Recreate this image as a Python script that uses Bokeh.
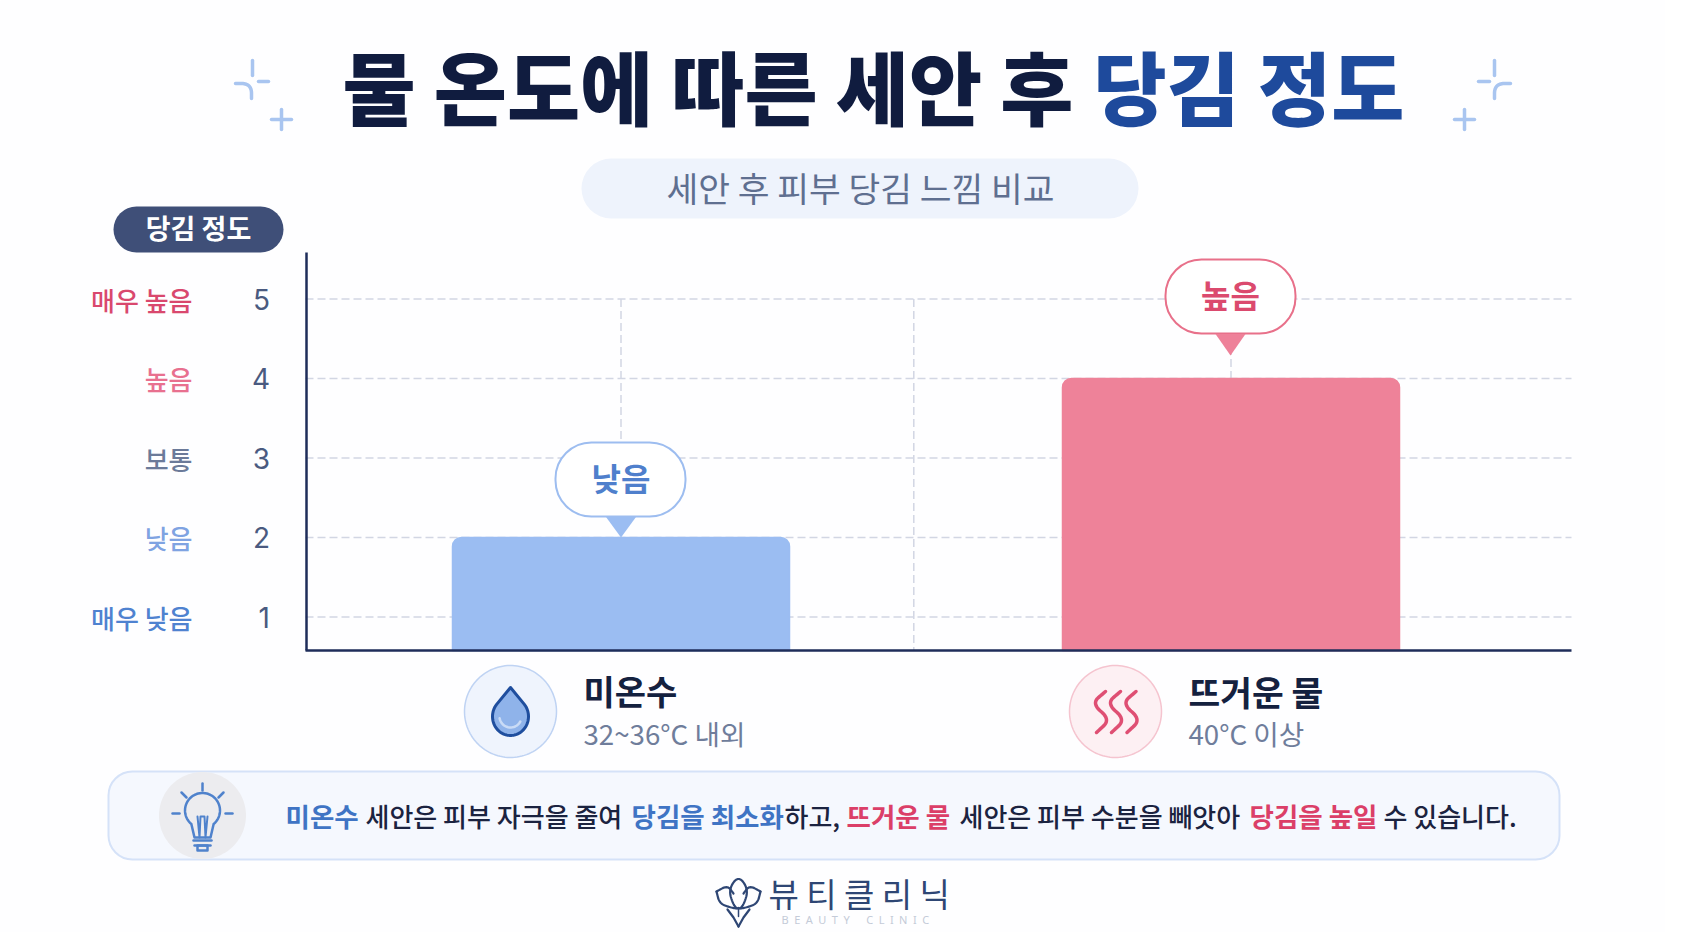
import numpy as np
from bokeh.plotting import figure
from bokeh.models import Range1d, FixedTicker
from bokeh.core.properties import value
from bokeh.embed import file_html
from bokeh.resources import INLINE

# ---- data
categories = ["미온수", "뜨거운 물"]
temperatures = ["32~36°C 내외", "40°C 이상"]
pull_scores = [2, 4]
score_names = ["낮음", "높음"]
y_ticks = [1, 2, 3, 4, 5]
y_tick_names = ["매우 낮음", "낮음", "보통", "높음", "매우 높음"]
y_name_colors = ["#4F82D0", "#7FA3E2", "#6B7A99", "#E8708F", "#D9486E"]
bar_colors = ["#9BBDF2", "#EE8299"]
title_main = "물 온도에 따른 세안 후"
title_accent = "당김 정도"
subtitle = "세안 후 피부 당김 느낌 비교"
axis_badge = "당김 정도"
note_runs = ["미온수", "세안은 피부 자극을 줄여", "당김을 최소화", "하고,", "뜨거운 물",
             "세안은 피부 수분을 빼앗아", "당김을 높일", "수 있습니다."]
note_run_styles = ["blue", "plain", "blue", "plain", "red", "plain", "red", "plain"]
brand = "뷰 티 클 리 닉"
brand_en = "B\u2002E\u2002A\u2002U\u2002T\u2002Y\u2003\u2002C\u2002L\u2002I\u2002N\u2002I\u2002C"

W, H = 1665, 920
Y_BASE = 0.58
Y_TOP = 5.59
H = 932


def X(px):
    return (np.asarray(px, dtype=float) - 620.5) / 610.0


def Y(py):
    return 3 - (np.asarray(py, dtype=float) - 457.5) / 79.5


p = figure(width=W, height=H, frame_width=W, frame_height=H, min_border=0,
           x_range=Range1d(float(X(0)), float(X(W))),
           y_range=Range1d(float(Y(H)), float(Y(0))),
           output_backend="svg", toolbar_location=None,
           background_fill_color="#FEFEFF", border_fill_color="#FEFEFF", outline_line_color=None)
p.grid.visible = False

KR = "Noto Sans CJK KR"
BLACK = value("Noto Sans CJK KR Black, Noto Sans CJK KR")
MED = value("Noto Sans CJK KR Medium, Noto Sans CJK KR")
REG = value(KR)
BOLD_F = value("Noto Sans CJK KR")


def txt(px, py, s, size, color, font=REG, style="normal", align="left"):
    p.text([float(X(px))], [float(Y(py))], text=[s], text_font=font, text_font_style=style,
           text_font_size=f"{size}px", text_color=color, text_align=align, text_baseline="middle")


def pill(x0, x1, y0, y1, radius, fill, line=None, lw=1.5):
    p.quad(left=[float(X(x0))], right=[float(X(x1))], top=[float(Y(y0))], bottom=[float(Y(y1))],
           fill_color=fill, line_color=line, line_width=lw, border_radius=radius)


def ln(xs, ys, color, lw, dash="solid"):
    p.line([float(X(v)) for v in xs], [float(Y(v)) for v in ys], line_color=color, line_width=lw,
           line_cap="round", line_join="round", line_dash=dash)


def disc(cx, cy, r, fill, line=None, lw=1.5):
    t = np.linspace(0, 2 * np.pi, 120)
    p.patch(X(cx + r * np.cos(t)), Y(cy + r * np.sin(t)), fill_color=fill, line_color=line, line_width=lw)


def smooth(pts, closed=False, rounds=3):
    pts = [tuple(q) for q in pts]
    for _ in range(rounds):
        out = [pts[0]] if not closed else []
        n = len(pts)
        for i in range(n if closed else n - 1):
            a, b = np.array(pts[i]), np.array(pts[(i + 1) % n])
            out += [tuple(0.75 * a + 0.25 * b), tuple(0.25 * a + 0.75 * b)]
        if not closed:
            out.append(pts[-1])
        pts = out
    if closed:
        pts.append(pts[0])
    return [q[0] for q in pts], [q[1] for q in pts]


# ---- titles
txt(1073, 84, title_main, 79.5, "#101C3F", BLACK, "bold", "right")
txt(1093, 84, title_accent, 79.5, "#1E4A9C", BLACK, "bold")
pill(581, 1138, 158, 218, 30, "#EEF3FC")
txt(860, 186, subtitle, 34.5, "#5F6F90", REG, "normal", "center")
pill(113, 283, 206, 252, 23, "#3F4F78")
txt(198, 227, axis_badge, 27, "#FFFFFF", BOLD_F, "bold", "center")

# ---- sparkles
SP = "#A9C5F0"
ln([252, 252], [60, 75], SP, 3.5)
ln([258, 268], [81, 81], SP, 3.5)
ln(*smooth([(235, 83), (246, 83), (251, 88), (251, 98)]), SP, 3.5)
ln([271, 291], [119, 119], SP, 3.5)
ln([281, 281], [109, 129], SP, 3.5)
ln([1494, 1494], [60, 75], SP, 3.5)
ln([1478, 1489], [81, 81], SP, 3.5)
ln(*smooth([(1510, 83), (1499, 83), (1494, 88), (1494, 98)]), SP, 3.5)
ln([1454, 1474], [119, 119], SP, 3.5)
ln([1464, 1464], [109, 129], SP, 3.5)

# ---- grid
GR = "#D2D6E3"
x_left, x_right = float(X(305)), float(X(1571))
p.segment(x0=[x_left] * len(y_ticks), x1=[x_right] * len(y_ticks), y0=y_ticks, y1=y_ticks,
          line_color=GR, line_width=1.5, line_dash="8 4")
v_grid = [0, 0.5 - 0.02, 1]
p.segment(x0=v_grid, x1=v_grid, y0=[max(y_ticks)] * 3, y1=[Y_BASE] * 3,
          line_color=GR, line_width=1.5, line_dash="8 4")

# ---- bars
idx = list(range(len(categories)))
p.vbar(x=idx, top=pull_scores, bottom=Y_BASE, width=337 / 610.0, fill_color=bar_colors,
       line_color=bar_colors, line_width=1.5, border_radius=(9, 9, 0, 0))

# ---- axes
p.yaxis.fixed_location = float(X(305.5))
p.yaxis.bounds = (Y_BASE, Y_TOP)
p.yaxis.ticker = FixedTicker(ticks=y_ticks)
p.yaxis.major_tick_line_color = None
p.yaxis.minor_tick_line_color = None
p.yaxis.axis_line_color = "#1E2D5A"
p.yaxis.axis_line_width = 2.5
p.yaxis.major_label_standoff = 30
p.yaxis.major_label_text_font = "Inter"
p.yaxis.major_label_text_font_size = "28px"
p.yaxis.major_label_text_color = "#4A5A80"
p.xaxis.fixed_location = Y_BASE
p.xaxis.bounds = (x_left, x_right)
p.xaxis.ticker = FixedTicker(ticks=[])
p.xaxis.minor_tick_line_color = None
p.xaxis.axis_line_color = "#1E2D5A"
p.xaxis.axis_line_width = 2.5

for t, s, c in zip(y_ticks, y_tick_names, y_name_colors):
    p.text([float(X(192))], [t + 0.0], text=[s], text_font=MED, text_font_size="26px", text_color=c,
           text_align="right", text_baseline="middle")

# ---- callouts
CALL = [(555, 685, 442, 516, "#9DBDF0", "#9BBDF2", "#4F7FCC", 620.5, 537, 476),
        (1165, 1295, 259, 333, "#E8708A", "#EE8199", "#DB4A6E", 1230, 355, 293)]
for (x0, x1, y0, y1, edge, tip, tc, cx, tipy, ty), name in zip(CALL, score_names):
    pill(x0, x1, y0, y1, 36, "#FFFFFF", edge, 2)
    p.patch(X([cx - 15, cx + 15, cx]), Y([y1 + 0.5, y1 + 0.5, tipy]), fill_color=tip, line_color=None)
    txt(cx, ty, name, 32, tc, BOLD_F, "bold", "center")

# ---- category labels
lab_x = [583, 1188]
cat_size = [34, 34.5]
for lx, c, s, sz in zip(lab_x, categories, temperatures, cat_size):
    txt(lx, 690, c, sz, "#14213F", BOLD_F, "bold")
    txt(lx, 732, s, 27.7, "#6F7D9B", REG)

# water drop icon
disc(510, 711, 46, "#EFF4FD", "#BFD3F3", 1.5)
t = np.linspace(-np.pi * 0.22, np.pi * 1.22, 60)
dx = list(510 + 18 * np.cos(t)) + [510]
dy = list(716 + 19 * np.sin(t)) + [687]
p.patch(X(dx), Y(dy), fill_color="#8FB3EA", line_color="#1F4E9E", line_width=3, line_join="round")
t2 = np.linspace(np.pi * 0.15, np.pi * 0.95, 20)
ln(510 + 11 * np.cos(t2), 716 + 11 * np.sin(t2), "#C9DBF6", 2.5)

# heat icon
disc(1115, 711, 46, "#FDF0F3", "#F5C4CF", 1.5)
for c in (1100, 1115, 1130.5):
    ln(*smooth([(c + 5, 691), (c - 9, 703), (c + 10, 719), (c - 4, 732)], rounds=4), "#DF4F73", 3.5)

# ---- note box
pill(108, 1559, 771, 859, 24, "#F5F8FE", "#D5E2F8", 2)
disc(202, 815, 43.5, "#ECECEF")
BL = "#4F82CC"
t3 = np.linspace(np.pi * 0.72, np.pi * 2.28, 50)
bx = list(202 + 17.5 * np.cos(t3))
by = list(810 + 17.5 * np.sin(t3))
ln(bx + [210, 194, bx[0]], by + [837, 837, by[0]], BL, 2.5)
ln([197, 199, 200, 204, 205, 207], [816, 837, 816, 816, 837, 816], BL, 2)
ln([193, 211], [840, 840], BL, 2.5)
ln([194, 210], [845, 845], BL, 2.5)
ln([197, 207, 207, 197, 197], [845, 845, 850, 850, 845], BL, 2.5)
ln([202, 202], [783, 790], BL, 2.5)
ln([181, 186], [792, 797], BL, 2.5)
ln([223, 218], [792, 797], BL, 2.5)
ln([172, 179], [813, 813], BL, 2.5)
ln([225, 232], [813, 813], BL, 2.5)

note_x = [285, 365, 631, 784, 846, 959, 1249, 1383]
RUN = {"blue": ("#3F74C4", BOLD_F, "bold", 26.5), "red": ("#DB3F68", BOLD_F, "bold", 26.5),
       "plain": ("#1B2340", MED, "normal", 26)}
for nx, s, st in zip(note_x, note_runs, note_run_styles):
    c, f, fs, sz = RUN[st]
    txt(nx, 815, s, sz, c, f, fs)

# ---- logo
LG = "#2E4674"
ln(*smooth([(738, 875), (728, 889), (733, 905), (738, 909), (743, 905), (748, 889)], closed=True), LG, 2.2)
for sgn in (1, -1):
    mx = lambda a: [738 + sgn * (v - 738) for v in a]
    xs1, ys1 = smooth([(716, 891), (727, 885), (733, 893)])
    ln(mx(xs1), ys1, LG, 2.2)
    xs2, ys2 = smooth([(716, 891), (719, 903), (730, 907), (736, 908)])
    ln(mx(xs2), ys2, LG, 2.2)
    ln(mx([727, 733, 738]), [909, 917, 926], LG, 2.2)
ln([738, 738], [907, 916], LG, 1.5)
txt(768, 892, brand, 33, LG, REG)
txt(781, 919, brand_en, 11, "#C4CBD8", value("Noto Sans"))

open("out.html", "w").write(file_html(p, INLINE))
